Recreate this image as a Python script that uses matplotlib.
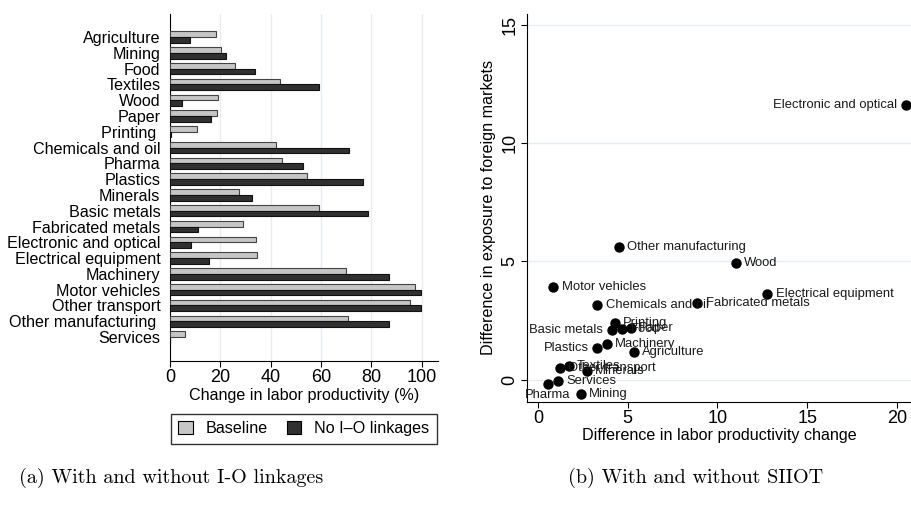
import numpy as np
import matplotlib
matplotlib.use("Agg")
import matplotlib.pyplot as plt

plt.rcParams["font.family"] = ["Liberation Sans", "DejaVu Sans"]

# (a) change in labor productivity (%)
sectors = ["Agriculture", "Mining", "Food", "Textiles", "Wood", "Paper", "Printing ",
           "Chemicals and oil", "Pharma", "Plastics", "Minerals", "Basic metals",
           "Fabricated metals", "Electronic and optical", "Electrical equipment",
           "Machinery", "Motor vehicles", "Other transport", "Other manufacturing ",
           "Services"]
baseline = [18.2, 20.2, 25.9, 43.7, 19.1, 18.7, 10.8, 42.2, 44.5, 54.4, 27.5, 59.4,
            29.0, 34.3, 34.5, 69.9, 97.5, 95.6, 70.8, 5.8]
no_io = [8.0, 22.3, 33.9, 59.4, 4.8, 16.3, 0.4, 71.3, 53.0, 76.9, 32.7, 78.9,
         11.2, 8.4, 15.5, 86.9, 99.7, 99.6, 86.9, 0.0]

# (b) with and without SIIOT
sc_names = ["Agriculture", "Mining", "Food", "Textiles", "Wood", "Paper", "Printing",
            "Chemicals and oil", "Pharma", "Plastics", "Minerals", "Basic metals",
            "Fabricated metals", "Electronic and optical", "Electrical equipment",
            "Machinery", "Motor vehicles", "Other transport", "Other manufacturing",
            "Services"]
prod_diff = [5.33, 2.39, 4.70, 1.71, 11.03, 5.18, 4.27, 3.31, 0.56, 3.30, 2.71, 4.10,
             8.88, 20.5, 12.78, 3.83, 0.85, 1.22, 4.51, 1.13]
expo_diff = [1.15, -0.59, 2.15, 0.57, 4.95, 2.18, 2.39, 3.16, -0.20, 1.32, 0.35, 2.10,
             3.23, 11.62, 3.62, 1.49, 3.93, 0.50, 5.63, -0.06]
label_pos = ["r", "r", "r", "r", "r", "r", "r", "r", "b", "l", "r", "l",
             "r", "l", "r", "r", "r", "r", "r", "r"]

grid_col = "#e6eef1"

fig = plt.figure(figsize=(9.12, 5.05), dpi=100)

# ---- left panel
ax1 = fig.add_axes([0.1864, 0.2851, 0.2935, 0.6871])
y = np.arange(len(sectors))
h = 0.36
ax1.barh(y - h / 2, baseline, height=h, color="#c6c6c6", edgecolor="#444444",
         linewidth=0.8, label="Baseline", zorder=3)
ax1.barh(y + h / 2, no_io, height=h, color="#303030", edgecolor="#111111",
         linewidth=0.8, label="No I\u2013O linkages", zorder=3)
ax1.set_xlim(0, 106.4)
ax1.set_ylim(20.52, -1.46)
ax1.set_yticks(y)
ax1.set_yticklabels(sectors, fontsize=11.6)
ax1.tick_params(axis="y", length=0, pad=7)
ax1.set_xticks([0, 20, 40, 60, 80, 100])
ax1.tick_params(axis="x", labelsize=13, length=4, width=0.8, direction="out", pad=2)
ax1.set_xlabel("Change in labor productivity (%)", fontsize=11.6, labelpad=1)
ax1.grid(axis="x", color=grid_col, linewidth=1, zorder=0)
for s in ["top", "right"]:
    ax1.spines[s].set_visible(False)
leg = ax1.legend(loc="center", bbox_to_anchor=(0.5, -0.195), ncol=2, fontsize=11.6,
                 frameon=True, fancybox=False, edgecolor="black", handlelength=0.9,
                 handleheight=0.9, handletextpad=0.8, columnspacing=1.2,
                 borderpad=0.45, borderaxespad=0)
leg.get_frame().set_linewidth(1.0)
for p in leg.get_patches():
    p.set_edgecolor("black")

# ---- right panel
ax2 = fig.add_axes([0.5779, 0.2046, 0.4221, 0.7677])
ax2.scatter(prod_diff, expo_diff, s=42, color="black", zorder=3)
offsets = {"r": ((6, 0), "left", "center"),
           "l": ((-6, 0), "right", "center"),
           "b": ((0, -3.5), "center", "top")}
for name, xv, yv, pos in zip(sc_names, prod_diff, expo_diff, label_pos):
    off, ha, va = offsets[pos]
    ax2.annotate(name, (xv, yv), xytext=off, textcoords="offset points",
                 ha=ha, va=va, fontsize=9.4, color="#1a1a1a", zorder=4)
ax2.set_xlim(-0.61, 20.84)
ax2.set_ylim(-0.93, 15.46)
ax2.set_xticks([0, 5, 10, 15, 20])
ax2.set_yticks([0, 5, 10, 15])
ax2.tick_params(axis="both", labelsize=13, length=4, width=0.8, direction="out", pad=2)
for lab in ax2.get_yticklabels():
    lab.set_rotation(90)
    lab.set_va("center")
ax2.set_xlabel("Difference in labor productivity change", fontsize=11.6, labelpad=1)
ax2.set_ylabel("Difference in exposure to foreign markets", fontsize=11.6, labelpad=4)
ax2.grid(axis="y", color=grid_col, linewidth=1, zorder=0)
for s in ["top", "right"]:
    ax2.spines[s].set_visible(False)

# captions
fig.text(171 / 912, 1 - 478 / 505, "(a) With and without I-O linkages", fontsize=14.5,
         family="cmr10", ha="center", va="center")
fig.text(696 / 912, 1 - 478 / 505, "(b) With and without SIIOT", fontsize=14.5,
         family="cmr10", ha="center", va="center")

fig.savefig("out.png", dpi=100)
